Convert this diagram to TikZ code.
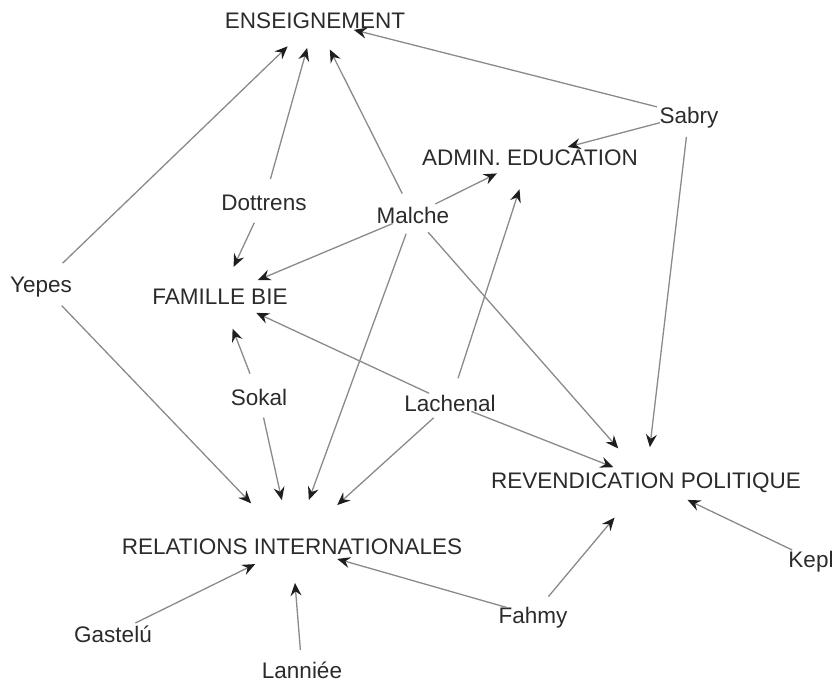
\documentclass[tikz,border=0pt]{standalone}
\usepackage{fontspec}
\setmainfont{Liberation Sans}
\usetikzlibrary{arrows.meta}

\definecolor{labelink}{HTML}{2B2B2B}
\definecolor{edgegray}{HTML}{8A8A8A}
\definecolor{tipink}{HTML}{1E1E1E}

\begin{document}
\begin{tikzpicture}[x=1pt, y=-1pt,
  lbl/.style={font=\fontsize{22.5}{27}\selectfont, text=labelink,
    inner sep=0pt, text height=16.1pt, text depth=0pt, anchor=center},
  edge/.style={draw=edgegray, line width=1.3pt,
    -{Stealth[length=13pt, width=11pt, inset=4.5pt, color=tipink]}}]

\path[use as bounding box] (0,0) rectangle (839,683);

% actors and themes
\node[lbl] (ens) at (315,20)  {ENSEIGNEMENT};
\node[lbl] (adm) at (530,157) {ADMIN. EDUCATION};
\node[lbl] (sab) at (689,115) {Sabry};
\node[lbl] (dot) at (264,202) {Dottrens};
\node[lbl] (mal) at (413,215) {Malche};
\node[lbl] (yep) at (41,284)  {Yepes};
\node[lbl] (fam) at (220,296) {FAMILLE BIE};
\node[lbl] (sok) at (259,397) {Sokal};
\node[lbl] (lac) at (450,403) {Lachenal};
\node[lbl] (rev) at (646,480) {REVENDICATION POLITIQUE};
\node[lbl] (rel) at (292,546) {RELATIONS INTERNATIONALES};
\node[lbl] (kep) at (811,559) {Kepl};
\node[lbl] (fah) at (533,615) {Fahmy};
\node[lbl] (gas) at (113,634) {Gastelú};
\node[lbl] (lan) at (302,670) {Lanniée};

% ties, each from an actor to a theme
\draw[edge, shorten <=30pt, shorten >=38pt] (yep.center) -- (ens.center);
\draw[edge, shorten <=30pt, shorten >=59pt] (yep.center) -- (rel.center);
\draw[edge, shorten <=24pt, shorten >=29pt] (dot.center) -- (ens.center);
\draw[edge, shorten <=23pt, shorten >=32pt] (dot.center) -- (fam.center);
\draw[edge, shorten <=24pt, shorten >=33pt] (mal.center) -- (ens.center);
\draw[edge, shorten <=25pt, shorten >=37pt] (mal.center) -- (adm.center);
\draw[edge, shorten <=22pt, shorten >=41pt] (mal.center) -- (fam.center);
\draw[edge, shorten <=20pt, shorten >=49pt] (mal.center) -- (rel.center);
\draw[edge, shorten <=23pt, shorten >=42pt] (mal.center) -- (rev.center);
\draw[edge, shorten <=33pt, shorten >=40pt] (sab.center) -- (ens.center);
\draw[edge, shorten <=30pt, shorten >=39pt] (sab.center) -- (adm.center);
\draw[edge, shorten <=22pt, shorten >=33pt] (sab.center) -- (rev.center);
\draw[edge, shorten <=25pt, shorten >=35pt] (sok.center) -- (fam.center);
\draw[edge, shorten <=21pt, shorten >=47pt] (sok.center) -- (rel.center);
\draw[edge, shorten <=23pt, shorten >=40pt] (lac.center) -- (fam.center);
\draw[edge, shorten <=26pt, shorten >=34pt] (lac.center) -- (adm.center);
\draw[edge, shorten <=22pt, shorten >=61pt] (lac.center) -- (rel.center);
\draw[edge, shorten <=23pt, shorten >=35pt] (lac.center) -- (rev.center);
\draw[edge, shorten <=25pt, shorten >=41pt] (gas.center) -- (rel.center);
\draw[edge, shorten <=20pt, shorten >=37pt] (lan.center) -- (rel.center);
\draw[edge, shorten <=27pt, shorten >=47pt] (fah.center) -- (rel.center);
\draw[edge, shorten <=24pt, shorten >=49pt] (fah.center) -- (rev.center);
\draw[edge, shorten <=21pt, shorten >=46pt] (kep.center) -- (rev.center);

\end{tikzpicture}
\end{document}
